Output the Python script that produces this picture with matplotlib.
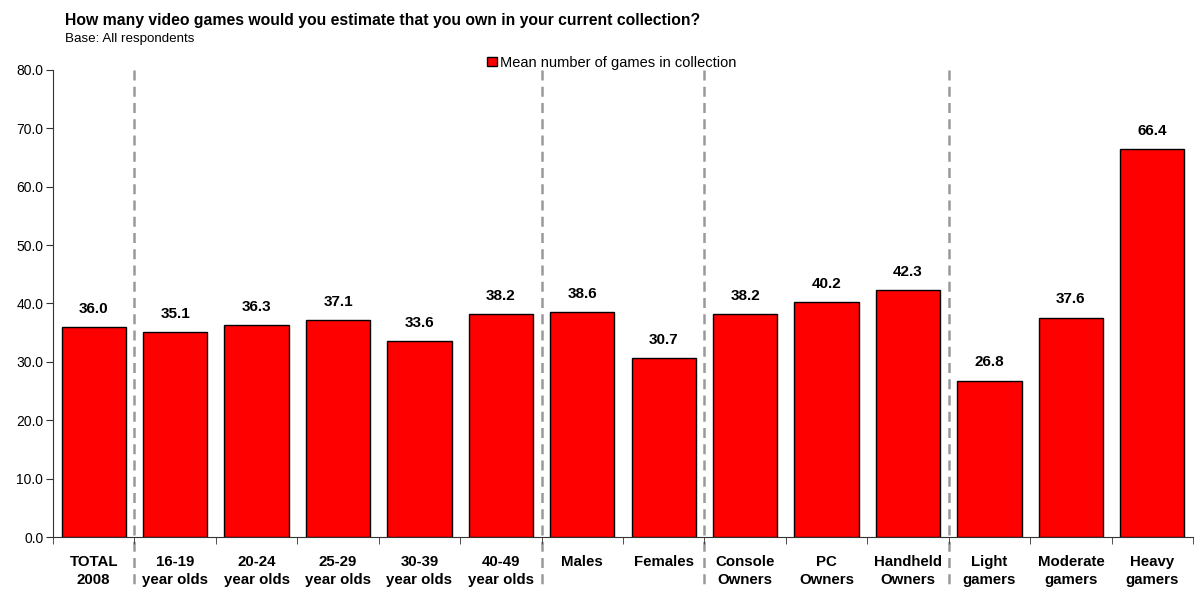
import matplotlib
matplotlib.use("Agg")
import matplotlib.pyplot as plt
import matplotlib.transforms as mtransforms
import numpy as np

plt.rcParams['font.family'] = ['Liberation Sans', 'DejaVu Sans']

categories = ["TOTAL\n2008", "16-19\nyear olds", "20-24\nyear olds", "25-29\nyear olds",
              "30-39\nyear olds", "40-49\nyear olds", "Males", "Females",
              "Console\nOwners", "PC\nOwners", "Handheld\nOwners",
              "Light\ngamers", "Moderate\ngamers", "Heavy\ngamers"]
values = [36.0, 35.1, 36.3, 37.1, 33.6, 38.2, 38.6, 30.7, 38.2, 40.2, 42.3, 26.8, 37.6, 66.4]
group_breaks = [1, 6, 8, 11]  # dashed separators before these categories

fig = plt.figure(figsize=(11.97, 5.90), dpi=100)
ax = fig.add_axes([0.0443, 0.0898, 0.9524, 0.7916])

x = np.arange(len(categories))
bars = ax.bar(x, values, width=0.79, color="#FF0000", edgecolor="black", linewidth=1,
              label="Mean number of games in collection", zorder=3)

for xi, v in zip(x, values):
    ax.text(xi, v + 1.9, f"{v:.1f}", ha="center", va="bottom", fontsize=11, fontweight="bold")

ax.set_xlim(-0.5, len(categories) - 0.5)
ax.set_ylim(0, 80)
ax.set_yticks(np.arange(0, 81, 10))
ax.set_yticklabels([f"{t:.1f}" for t in np.arange(0, 81, 10)], fontsize=10)
ax.set_xticks(x)
ax.set_xticklabels(categories, fontsize=10.8, fontweight="bold", linespacing=1.33)
ax.set_xticks(np.arange(-0.5, len(categories), 1), minor=True)
ax.tick_params(axis="x", which="major", length=0, pad=13)
ax.tick_params(axis="x", which="minor", length=5, color="#333333")
ax.tick_params(axis="y", length=5, color="#333333", pad=2)

for s in ["top", "right"]:
    ax.spines[s].set_visible(False)
ax.spines["left"].set_color("#333333")
ax.spines["bottom"].set_color("#333333")

trans = mtransforms.blended_transform_factory(ax.transData, ax.transAxes)
for b in group_breaks:
    ax.plot([b - 0.5, b - 0.5], [1.0, -0.115], transform=trans, color="#999999",
            linewidth=1.8, linestyle=(0, (4, 2.5)), clip_on=False, zorder=1)

fig.text(0.054, 0.966, "How many video games would you estimate that you own in your current collection?",
         fontsize=11.3, fontweight="bold", ha="left", va="center")
fig.text(0.054, 0.934, "Base: All respondents", fontsize=9.6, ha="left", va="center")

leg = ax.legend(loc="lower center", bbox_to_anchor=(0.49, 0.985), frameon=False, fontsize=10.5,
                handlelength=0.65, handleheight=0.65, handletextpad=0.2, borderpad=0)

fig.savefig("out.png", dpi=100)
